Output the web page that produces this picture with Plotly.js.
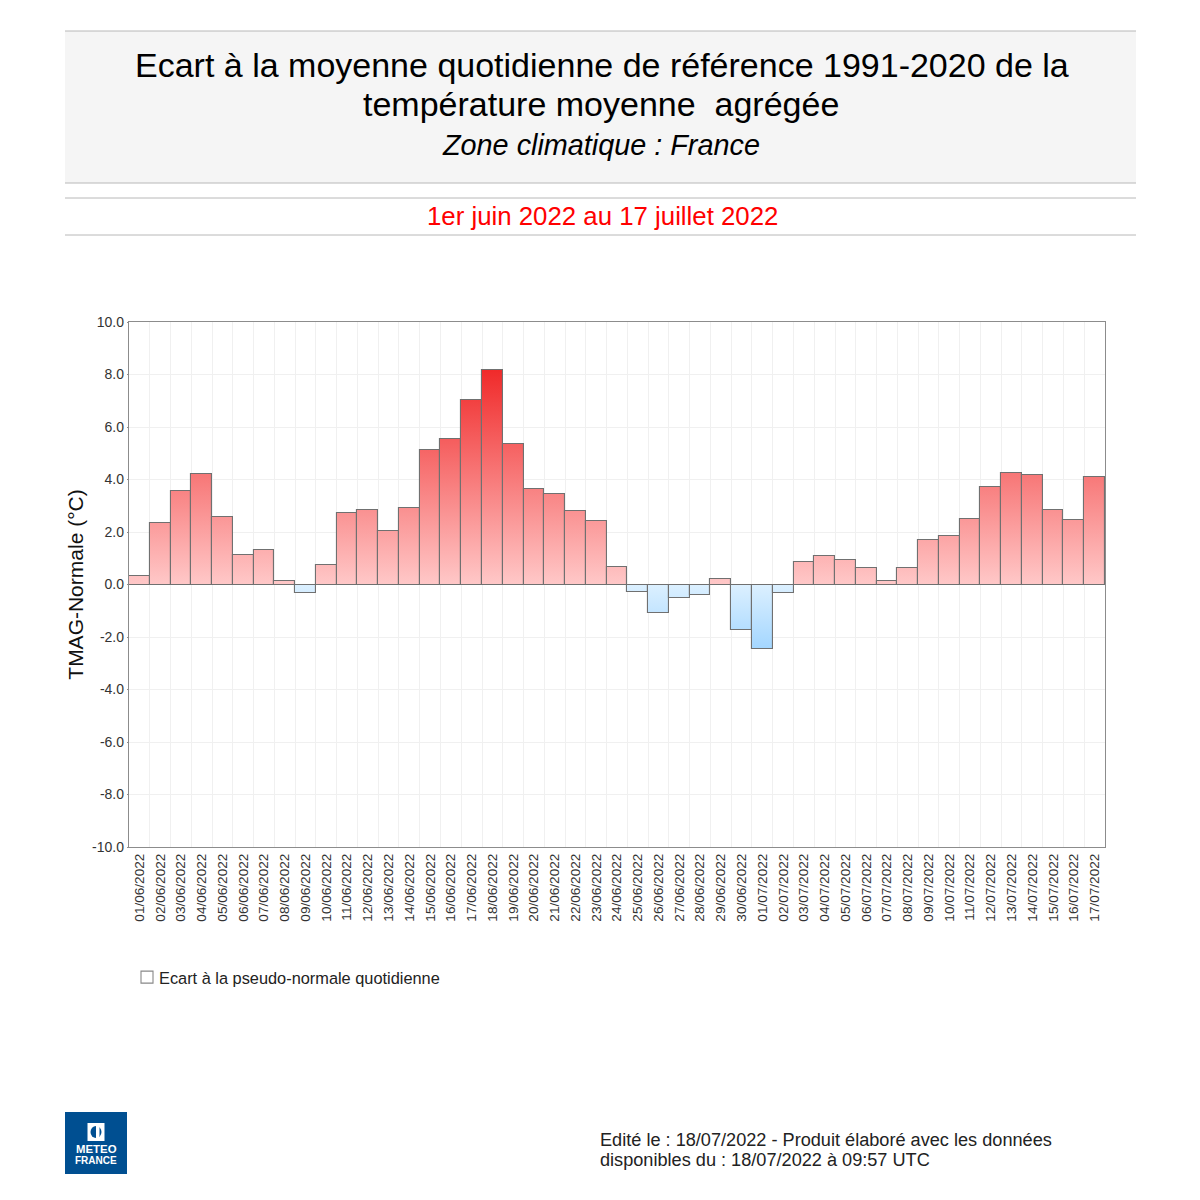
<!DOCTYPE html>
<html>
<head>
<meta charset="utf-8">
<script src="https://cdn.plot.ly/plotly-3.0.1.min.js"></script>
<style>html,body{margin:0;padding:0;background:#fff}#chart{width:1200px;height:1200px}</style>
</head>
<body>
<div id="chart"></div>
<script>
const dates = ["01/06/2022","02/06/2022","03/06/2022","04/06/2022","05/06/2022","06/06/2022","07/06/2022","08/06/2022","09/06/2022","10/06/2022","11/06/2022","12/06/2022","13/06/2022","14/06/2022","15/06/2022","16/06/2022","17/06/2022","18/06/2022","19/06/2022","20/06/2022","21/06/2022","22/06/2022","23/06/2022","24/06/2022","25/06/2022","26/06/2022","27/06/2022","28/06/2022","29/06/2022","30/06/2022","01/07/2022","02/07/2022","03/07/2022","04/07/2022","05/07/2022","06/07/2022","07/07/2022","08/07/2022","09/07/2022","10/07/2022","11/07/2022","12/07/2022","13/07/2022","14/07/2022","15/07/2022","16/07/2022","17/07/2022"];
const ecart = [0.33,2.34,3.56,4.21,2.56,1.11,1.33,0.13,-0.33,0.74,2.71,2.83,2.02,2.92,5.11,5.53,7.03,8.18,5.34,3.63,3.45,2.79,2.42,0.65,-0.29,-1.08,-0.52,-0.41,0.2,-1.73,-2.47,-0.33,0.84,1.08,0.94,0.63,0.12,0.63,1.69,1.86,2.48,3.71,4.23,4.16,2.83,2.46,4.1];
const yTickVals = [10,8,6,4,2,0,-2,-4,-6,-8,-10];
const yTickText = ["10.0","8.0","6.0","4.0","2.0","0.0","-2.0","-4.0","-6.0","-8.0","-10.0"];
const seriesName = "Ecart à la pseudo-normale quotidienne";
const yTitle = "TMAG-Normale (°C)";

const FONT = '"Liberation Sans", Arial, sans-serif';
const L = 129, R = 1105, T = 322, B = 847;
const px = x => (x - L) / (R - L);
const py = y => (B - y) / (B - T);

const rule = y => ({type:'line', xref:'paper', yref:'paper', x0:px(65), x1:px(1136), y0:py(y), y1:py(y), line:{color:'#b8b8b8', width:1}});
const note = (text, x, y, size, color, extra) => Object.assign({
  text, xref:'paper', yref:'paper', x:px(x), y:py(y), showarrow:false, xanchor:'center', yanchor:'middle',
  font:{family:FONT, size, color}
}, extra || {});

const shapes = [
  {type:'rect', xref:'paper', yref:'paper', x0:px(65), x1:px(1136), y0:py(31), y1:py(183), fillcolor:'#f5f5f5', line:{width:0}, layer:'below'},
  rule(31), rule(183), rule(198), rule(235),
  {type:'rect', xref:'paper', yref:'paper', x0:px(65), x1:px(127), y0:py(1112), y1:py(1174), fillcolor:'#004f91', line:{width:0}},
  {type:'rect', xref:'paper', yref:'paper', x0:px(87.5), x1:px(104.5), y0:py(1123), y1:py(1141), fillcolor:'#ffffff', line:{width:0}},
  {type:'circle', xref:'paper', yref:'paper', x0:px(90.5), x1:px(101.5), y0:py(1126), y1:py(1138), fillcolor:'#004f91', line:{width:0}},
  {type:'rect', xref:'paper', yref:'paper', x0:px(96), x1:px(99.5), y0:py(1126), y1:py(1138), fillcolor:'#ffffff', line:{width:0}}
];

const annotations = [
  note("Ecart à la moyenne quotidienne de référence 1991-2020 de la", 602, 65.5, 34, '#000'),
  note("température moyenne  agrégée", 600.5, 104.5, 34, '#000'),
  note("<i>Zone climatique : France</i>", 601, 144.5, 28.8, '#000'),
  note("1er juin 2022 au 17 juillet 2022", 602, 216, 25.8, '#ff0000'),
  note("<b>METEO</b>", 96, 1149, 11.4, '#fff'),
  note("<b>FRANCE</b>", 96, 1160, 10, '#fff'),
  note("Edité le : 18/07/2022 - Produit élaboré avec les données", 598, 1140, 18.15, '#222', {xanchor:'left'}),
  note("disponibles du : 18/07/2022 à 09:57 UTC", 598, 1160, 18.15, '#222', {xanchor:'left'})
];

const trace = {
  type:'bar', x:dates, y:ecart, name:seriesName, showlegend:true,
  marker:{color:ecart.map(v => v >= 0 ? '#ff9a9a' : '#c8e6ff'), line:{color:'#707070', width:1.1}}
};

const layout = {
  width:1200, height:1200, paper_bgcolor:'#fff', plot_bgcolor:'#fff',
  margin:{l:L, r:1200-R, t:T, b:1200-B, pad:0},
  font:{family:FONT},
  bargap:0, shapes, annotations,
  showlegend:true,
  legend:{x:px(119), y:py(977.5), xanchor:'left', yanchor:'middle', bgcolor:'rgba(0,0,0,0)', font:{family:FONT, size:16.35, color:'#222'}, itemclick:false},
  xaxis:{type:'category', tickson:'boundaries', tickangle:-90, tickfont:{family:FONT, size:13.6, color:'#333'},
    showgrid:true, gridcolor:'#f0f0f0', gridwidth:1.4, ticks:'', showline:true, mirror:true, linecolor:'#8c8c8c', linewidth:1.4, automargin:false, dtick:1},
  yaxis:{range:[-10,10], tickmode:'array', tickvals:yTickVals, ticktext:yTickText, tickfont:{family:FONT, size:14, color:'#333'},
    showgrid:true, gridcolor:'#f0f0f0', gridwidth:1.4, ticks:'outside', ticklen:1, tickcolor:'#8c8c8c', showline:true, mirror:true, linecolor:'#8c8c8c', linewidth:1.4,
    zeroline:true, zerolinecolor:'#555', zerolinewidth:1, automargin:false,
    title:{text:yTitle, font:{family:FONT, size:21, color:'#111'}, standoff:2}}
};

function gradient(svg, id, yA, yB, c0, c1) {
  const NS = 'http://www.w3.org/2000/svg';
  const g = document.createElementNS(NS, 'linearGradient');
  g.setAttribute('id', id);
  g.setAttribute('gradientUnits', 'userSpaceOnUse');
  g.setAttribute('x1', 0); g.setAttribute('x2', 0);
  g.setAttribute('y1', yA); g.setAttribute('y2', yB);
  [[0,c0],[1,c1]].forEach(([o,c]) => {
    const s = document.createElementNS(NS, 'stop');
    s.setAttribute('offset', o); s.setAttribute('stop-color', c);
    g.appendChild(s);
  });
  svg.querySelector('defs').appendChild(g);
}

const gd = document.getElementById('chart');
Plotly.newPlot(gd, [trace], layout, {displayModeBar:false}).then(() => {
  const svg = gd.querySelector('svg.main-svg');
  const ya = gd._fullLayout.yaxis;
  const max = Math.max(...ecart), min = Math.min(...ecart);
  gradient(svg, 'gradPos', ya.d2p(0), ya.d2p(max), '#ffc8c8', '#f02a2a');
  gradient(svg, 'gradNeg', ya.d2p(0), ya.d2p(min), '#dcf0ff', '#a3d6ff');
  gd.querySelectorAll('.barlayer .point path').forEach((p, i) => {
    p.style.fill = ecart[i] >= 0 ? 'url(#gradPos)' : 'url(#gradNeg)';
  });
  gd.querySelectorAll('.legend .legendpoints path').forEach(p => {
    p.style.fill = '#fff'; p.style.stroke = '#888';
    p.setAttribute('transform', (p.getAttribute('transform') || '') + ' translate(8,0)');
  });
});
</script>
</body>
</html>
